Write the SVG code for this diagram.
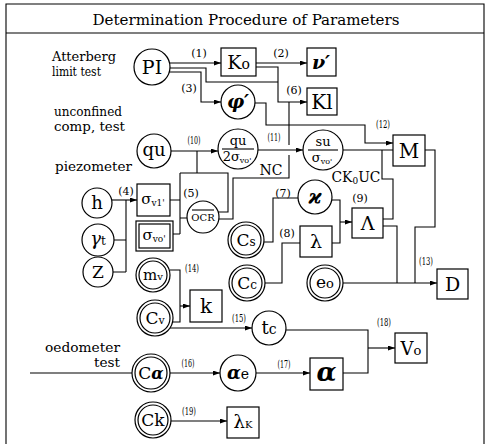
<svg xmlns="http://www.w3.org/2000/svg" width="488" height="444" viewBox="0 0 488 444">
<defs>
<marker id="ah" viewBox="0 0 7 5" refX="7" refY="2.5" markerWidth="7" markerHeight="5" orient="auto" markerUnits="userSpaceOnUse"><path d="M0,0 L7,2.5 L0,5 z" fill="#000"/></marker>
<style>
.ln{fill:none;stroke:#000;stroke-width:1.1}
.ar{marker-end:url(#ah)}
.nd{fill:#fff;stroke:#000;stroke-width:1.2}
.t{font-family:"DejaVu Serif","Liberation Serif",serif;fill:#000}
.m{text-anchor:middle}
.lb{font-family:"DejaVu Serif","Liberation Serif",serif;font-size:11px;fill:#000;text-anchor:middle}
.ann{font-family:"DejaVu Serif","Liberation Serif",serif;font-size:12.5px;fill:#000}
.bi{font-style:italic;font-weight:bold}
</style>
</defs>
<rect width="488" height="444" fill="#fff"/>
<g id="frame" class="ln">
<path d="M6,444 V4 H484 V444"/>
<line x1="6" y1="33" x2="484" y2="33"/>
</g>
<text class="t m" x="246" y="25" font-size="15.5" textLength="307" lengthAdjust="spacingAndGlyphs">Determination Procedure of Parameters</text>
<g id="annotations">
<text class="ann" x="52" y="61" textLength="64" lengthAdjust="spacingAndGlyphs">Atterberg</text>
<text class="ann" x="52" y="76" textLength="49" lengthAdjust="spacingAndGlyphs">limit test</text>
<text class="ann" x="54" y="116" textLength="68" lengthAdjust="spacingAndGlyphs">unconfined</text>
<text class="ann" x="54" y="131" textLength="71" lengthAdjust="spacingAndGlyphs">comp, test</text>
<text class="ann" x="55" y="171" textLength="77" lengthAdjust="spacingAndGlyphs">piezometer</text>
<text class="ann" x="120" y="352" text-anchor="end" textLength="75" lengthAdjust="spacingAndGlyphs">oedometer</text>
<text class="ann" x="120" y="367" text-anchor="end" textLength="26" lengthAdjust="spacingAndGlyphs">test</text>
</g>
<g id="connectors">
<path class="ln ar" d="M170,63 H221"/>
<path class="ln" d="M170,68 H206 V82 H278"/>
<path class="ln ar" d="M169,72 H201 V102 H221"/>
<path class="ln ar" d="M256,63 H307"/>
<path class="ln ar" d="M256,67 H278 V102 H307"/>
<path class="ln" d="M219,219 H233 V178 H289 V155 M289,145 V102"/>
<path class="ln ar" d="M255,103 H266 V125 H365 V143 H393"/>
<path class="ln ar" d="M171,151 H218"/>
<path class="ln" d="M170,200 H180 M173,234 H180 M180,173 V234 M180,218 H187 M180,173 H228 V212 H218 M197,151 V173"/>
<path class="ln ar" d="M258,150 H303"/>
<path class="ln" d="M343,150 H393"/>
<path class="ln" d="M382,150 V179 H393 V219 H383"/>
<path class="ln" d="M264,242 H273 V198 H298"/>
<path class="ln" d="M265,283 H282 V243 H300"/>
<path class="ln" d="M332,200 H340 V243 H332"/>
<path class="ln ar" d="M340,222 H352"/>
<path class="ln" d="M383,226 H397 V283"/>
<path class="ln" d="M425,150 H435 V227 H415 V283"/>
<path class="ln ar" d="M343,283 H437"/>
<path class="ln ar" d="M112,200 H137"/>
<path class="ln" d="M126,200 V272 M114,240 H126 M113,272 H126"/>
<path class="ln" d="M170,270 H180 V322 H172"/>
<path class="ln ar" d="M180,306 H190"/>
<path class="ln ar" d="M170,328 H252"/>
<path class="ln" d="M30,373 H132"/>
<path class="ln ar" d="M170,373 H220"/>
<path class="ln ar" d="M256,373 H310"/>
<path class="ln" d="M286,330 H368 V373 H343"/>
<path class="ln ar" d="M368,348 H395"/>
<path class="ln ar" d="M171,421 H227"/>
</g>
<g id="edge-labels">
<text class="lb" x="199" y="57">(1)</text>
<text class="lb" x="281" y="57">(2)</text>
<text class="lb" x="189" y="92">(3)</text>
<text class="lb" x="294" y="94">(6)</text>
<text class="lb" x="194" y="144" textLength="13" lengthAdjust="spacingAndGlyphs">(10)</text>
<text class="lb" x="274" y="141" textLength="13" lengthAdjust="spacingAndGlyphs">(11)</text>
<text class="lb" x="383" y="128" textLength="14" lengthAdjust="spacingAndGlyphs">(12)</text>
<text class="lb" x="426" y="265" textLength="14" lengthAdjust="spacingAndGlyphs">(13)</text>
<text class="lb" x="192" y="272" textLength="14" lengthAdjust="spacingAndGlyphs">(14)</text>
<text class="lb" x="239" y="322" textLength="14" lengthAdjust="spacingAndGlyphs">(15)</text>
<text class="lb" x="188" y="367" textLength="13" lengthAdjust="spacingAndGlyphs">(16)</text>
<text class="lb" x="284" y="368" textLength="13" lengthAdjust="spacingAndGlyphs">(17)</text>
<text class="lb" x="384" y="326" textLength="14" lengthAdjust="spacingAndGlyphs">(18)</text>
<text class="lb" x="189" y="415" textLength="14" lengthAdjust="spacingAndGlyphs">(19)</text>
<text class="lb" x="126" y="195" font-size="12">(4)</text>
<text class="lb" x="191" y="197" font-size="12">(5)</text>
<text class="lb" x="283" y="197" font-size="12">(7)</text>
<text class="lb" x="287" y="237" font-size="12">(8)</text>
<text class="lb" x="360" y="202" font-size="12">(9)</text>
<text class="t m" x="271" y="175" font-size="14">NC</text>
<text class="t m" x="356" y="182" font-size="14" textLength="49" lengthAdjust="spacingAndGlyphs">CK<tspan font-size="9" dy="2">0</tspan><tspan dy="-2">UC</tspan></text>
</g>
<g id="n-PI"><circle class="nd" cx="152" cy="67" r="18"/><text class="t m" x="152" y="74" font-size="19">PI</text></g>
<g id="n-Ko"><rect class="nd" x="221" y="48" width="35" height="28"/><text class="t m" x="238.5" y="69" font-size="19">K<tspan font-size="14">o</tspan></text></g>
<g id="n-nu"><rect class="nd" x="307" y="48" width="29" height="28"/><text class="t m" x="321" y="69" font-size="19" font-style="italic" font-weight="bold">ν′</text></g>
<g id="n-phi"><circle class="nd" cx="238" cy="102" r="17"/><text class="t m bi" x="238" y="108" font-size="19">φ′</text></g>
<g id="n-Kl"><rect class="nd" x="307" y="88" width="30" height="27"/><text class="t m" x="322" y="109" font-size="20">Kl</text></g>
<g id="n-qu"><circle class="nd" cx="154" cy="151" r="17"/><text class="t m" x="154" y="156" font-size="18">qu</text></g>
<g id="n-qu2s"><circle class="nd" cx="238" cy="149" r="20"/><text class="t m" x="238" y="145" font-size="13">qu</text><line class="ln" x1="222" y1="149" x2="254" y2="149"/><text class="t m" x="237" y="161" font-size="13">2σ<tspan font-size="8" dy="2">vo'</tspan></text></g>
<g id="n-sus"><circle class="nd" cx="323" cy="150" r="20"/><text class="t m" x="323" y="146" font-size="13">su</text><line class="ln" x1="308" y1="150" x2="338" y2="150"/><text class="t m" x="322" y="162" font-size="13">σ<tspan font-size="8" dy="2">vo'</tspan></text></g>
<g id="n-M"><rect class="nd" x="393" y="135" width="32" height="31"/><text class="t m" x="409" y="158" font-size="20">M</text></g>
<g id="n-h"><circle class="nd" cx="97" cy="203" r="15"/><text class="t m" x="97" y="209" font-size="18">h</text></g>
<g id="n-gt"><circle class="nd" cx="98" cy="240" r="16"/><text class="t m" x="98" y="245" font-size="18"><tspan font-style="italic">γ</tspan><tspan font-size="12">t</tspan></text></g>
<g id="n-Z"><circle class="nd" cx="98" cy="272" r="15"/><text class="t m" x="98" y="278" font-size="17">Z</text></g>
<g id="n-sv1"><rect class="nd" x="137" y="184" width="33" height="32"/><text class="t m" x="153" y="204" font-size="15">σ<tspan font-size="9" dy="2">v1'</tspan></text></g>
<g id="n-svo"><rect class="nd" x="136" y="221" width="37" height="30" stroke-width="1.6"/><rect class="nd" x="139" y="224" width="31" height="24"/><text class="t m" x="154" y="240" font-size="15">σ<tspan font-size="9" dy="2">vo'</tspan></text></g>
<g id="n-OCR"><circle class="nd" cx="203" cy="217" r="16"/><text class="t m" x="203" y="221" font-size="10">OCR</text><line class="ln" x1="192" y1="210" x2="214" y2="210" stroke-width="0.9"/></g>
<g id="n-Cs"><circle class="nd" cx="246" cy="240" r="18"/><circle class="nd" cx="246" cy="240" r="15"/><text class="t m" x="246" y="246" font-size="17">C<tspan font-size="12">s</tspan></text></g>
<g id="n-Cc"><circle class="nd" cx="247" cy="283" r="18"/><circle class="nd" cx="247" cy="283" r="15"/><text class="t m" x="247" y="289" font-size="17">C<tspan font-size="12">c</tspan></text></g>
<g id="n-kappa"><circle class="nd" cx="315" cy="197" r="17"/><text class="t m bi" x="315" y="203" font-size="20">ϰ</text></g>
<g id="n-lambda"><rect class="nd" x="300" y="226" width="32" height="31"/><text class="t m" x="316" y="248" font-size="19">λ</text></g>
<g id="n-Lambda"><rect class="nd" x="352" y="208" width="31" height="30"/><text class="t m" x="367.5" y="230" font-size="19">Λ</text></g>
<g id="n-eo"><circle class="nd" cx="325" cy="283" r="18"/><circle class="nd" cx="325" cy="283" r="15"/><text class="t m" x="325" y="288" font-size="17">e<tspan font-size="13">o</tspan></text></g>
<g id="n-D"><rect class="nd" x="437" y="269" width="31" height="30"/><text class="t m" x="452.5" y="291" font-size="19">D</text></g>
<g id="n-mv"><circle class="nd" cx="153" cy="275" r="17"/><circle class="nd" cx="153" cy="275" r="14"/><text class="t m" x="153" y="280" font-size="15">m<tspan font-size="10">v</tspan></text></g>
<g id="n-k"><rect class="nd" x="190" y="290" width="32" height="32"/><text class="t m" x="206" y="313" font-size="20">k</text></g>
<g id="n-Cv"><circle class="nd" cx="155" cy="318" r="18"/><circle class="nd" cx="155" cy="318" r="15"/><text class="t m" x="155" y="324" font-size="17">C<tspan font-size="11">v</tspan></text></g>
<g id="n-tc"><circle class="nd" cx="269" cy="328" r="17"/><text class="t m" x="269" y="334" font-size="18">t<tspan font-size="14">c</tspan></text></g>
<g id="n-Ca"><circle class="nd" cx="151" cy="373" r="19"/><circle class="nd" cx="151" cy="373" r="16"/><text class="t m" x="151" y="379" font-size="17">C<tspan class="bi" font-size="16">α</tspan></text></g>
<g id="n-ae"><circle class="nd" cx="238" cy="373" r="18"/><text class="t m" x="238" y="379" font-size="14"><tspan class="bi" font-size="18">α</tspan>e</text></g>
<g id="n-alpha"><rect class="nd" x="310" y="358" width="33" height="32"/><text class="t m bi" x="326.5" y="381" font-size="26">α</text></g>
<g id="n-Vo"><rect class="nd" x="395" y="333" width="32" height="30"/><text class="t m" x="411" y="355" font-size="18">V<tspan font-size="13">o</tspan></text></g>
<g id="n-Ck"><circle class="nd" cx="153" cy="420" r="18"/><circle class="nd" cx="153" cy="420" r="15"/><text class="t m" x="153" y="426" font-size="17">Ck</text></g>
<g id="n-lK"><rect class="nd" x="227" y="407" width="32" height="31"/><text class="t m" x="243" y="428" font-size="18">λ<tspan font-size="10">K</tspan></text></g>
</svg>
